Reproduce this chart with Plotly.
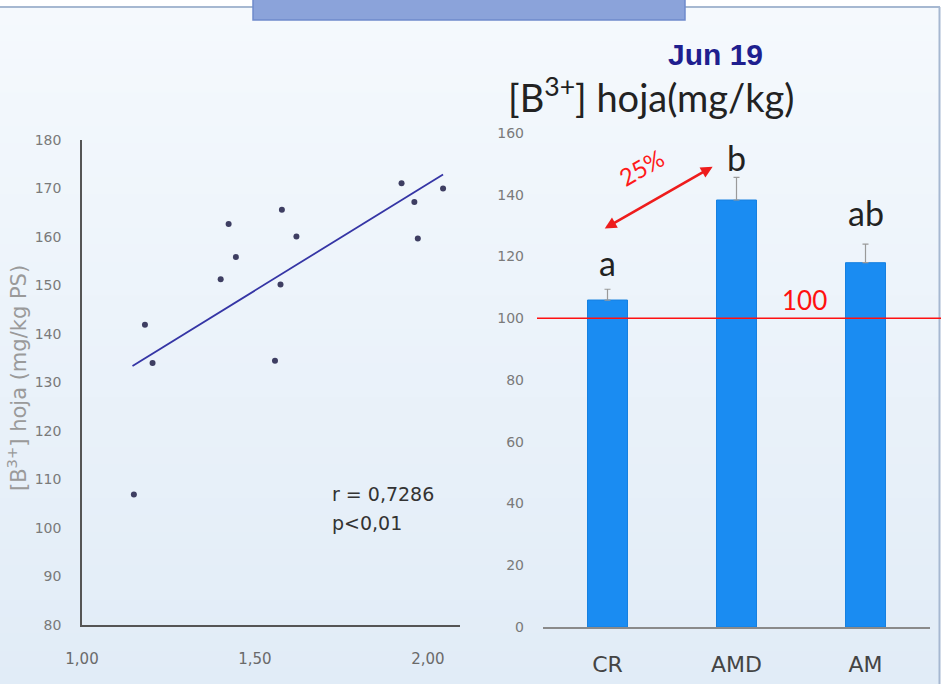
import plotly.graph_objects as go

W, H = 941, 684

# Scatter: leaf boron vs. ratio
scatter_x = [1.150, 1.182, 1.204, 1.401, 1.424, 1.445, 1.558, 1.574, 1.578, 1.620, 1.924, 1.961, 1.971, 2.044]
scatter_y = [106.9, 141.9, 134.0, 151.3, 162.7, 155.9, 134.5, 150.2, 165.6, 160.1, 171.1, 167.2, 159.7, 170.0]
trend_x = [1.146, 2.044]
trend_y = [133.4, 172.9]
left_xticks = [1.0, 1.5, 2.0]
left_xticklabels = ["1,00", "1,50", "2,00"]
left_yticks = [80, 90, 100, 110, 120, 130, 140, 150, 160, 170, 180]

# Bars: leaf boron by treatment
treatments = ["CR", "AMD", "AM"]
boron_mean = [105.9, 138.3, 118.0]
boron_err = [3.5, 7.3, 6.0]
group_letters = ["a", "b", "ab"]
letter_y = [118.2, 152.2, 134.4]
reference_level = 100
right_yticks = [0, 20, 40, 60, 80, 100, 120, 140, 160]


def px(x):
    return x / W


def py(y):
    return 1 - y / H


fig = go.Figure()

fig.add_trace(go.Scatter(
    x=trend_x, y=trend_y, mode="lines",
    line=dict(color="#3535a5", width=1.8),
    xaxis="x", yaxis="y", hoverinfo="skip", showlegend=False,
))
fig.add_trace(go.Scatter(
    x=scatter_x, y=scatter_y, mode="markers",
    marker=dict(color="#3e3e62", size=6),
    xaxis="x", yaxis="y", showlegend=False,
))

fig.add_trace(go.Bar(
    x=treatments, y=boron_mean,
    marker=dict(color="#1a8cf2", line=dict(color="#1680e0", width=1)),
    error_y=dict(type="data", array=boron_err, arrayminus=[0, 0, 0], symmetric=False,
                 color="#9a9a9a", thickness=1.2, width=3),
    xaxis="x2", yaxis="y2", showlegend=False,
))

shapes = []
# soft vertical gradient panel
n_bands = 40
top, bottom = 8, H
c0 = (245, 249, 253)
c1 = (225, 236, 247)
for i in range(n_bands):
    t = i / (n_bands - 1)
    col = "rgb(%d,%d,%d)" % tuple(round(a + (b - a) * t) for a, b in zip(c0, c1))
    y0 = top + (bottom - top) * i / n_bands
    y1 = top + (bottom - top) * (i + 1) / n_bands + 1
    shapes.append(dict(type="rect", xref="paper", yref="paper", layer="below",
                       x0=0, x1=px(939), y0=py(min(y1, H)), y1=py(y0),
                       fillcolor=col, line=dict(width=0)))
# panel frame lines
shapes.append(dict(type="line", xref="paper", yref="paper", layer="below",
                   x0=0, x1=px(940), y0=py(7), y1=py(7),
                   line=dict(color="#a6b8d1", width=2)))
shapes.append(dict(type="line", xref="paper", yref="paper", layer="below",
                   x0=px(939.5), x1=px(939.5), y0=0, y1=py(7),
                   line=dict(color="#a6b8d1", width=2)))
# header tab
shapes.append(dict(type="rect", xref="paper", yref="paper", layer="below",
                   x0=px(253), x1=px(685), y0=py(20), y1=1.02,
                   fillcolor="#8ba3da", line=dict(color="#6f8bcc", width=1.5)))
# reference level line
shapes.append(dict(type="line", xref="paper", yref="y2", layer="above",
                   x0=px(537), x1=1, y0=reference_level, y1=reference_level,
                   line=dict(color="#ff1010", width=1.6)))

annotations = []
annotations.append(dict(text="[B<sup>3+</sup>] hoja (mg/kg PS)", textangle=-90,
                        xref="paper", yref="paper", x=px(17), y=py(378),
                        xanchor="center", yanchor="middle",
                        showarrow=False, font=dict(family="DejaVu Sans", size=21, color="#9a9a9a")))
annotations.append(dict(text="r = 0,7286", xref="x", yref="y", x=1.717, y=107.0,
                        xanchor="left", yanchor="middle", showarrow=False,
                        font=dict(family="DejaVu Sans", size=19, color="#333333")))
annotations.append(dict(text="p<0,01", xref="x", yref="y", x=1.717, y=101.0,
                        xanchor="left", yanchor="middle", showarrow=False,
                        font=dict(family="DejaVu Sans", size=19, color="#333333")))
annotations.append(dict(text="<b>Jun 19</b>", xref="paper", yref="paper",
                        x=px(715), y=py(55), xanchor="center", yanchor="middle", showarrow=False,
                        font=dict(family="Liberation Sans", size=30, color="#1f1f8f")))
annotations.append(dict(text="[B<sup>3+</sup>] hoja(mg/kg)", xref="paper", yref="paper",
                        x=px(651), y=py(95), xanchor="center", yanchor="middle", showarrow=False,
                        font=dict(family="Lato", size=38, color="#222222")))
for cat, letter, ly in zip(treatments, group_letters, letter_y):
    annotations.append(dict(text=letter, xref="x2", yref="y2", x=cat, y=ly,
                            xanchor="center", yanchor="middle",
                            showarrow=False, font=dict(family="Lato", size=34, color="#222222")))
annotations.append(dict(text="100", xref="x2", yref="y2", x=1.53, y=105.9,
                        xanchor="center", yanchor="middle",
                        showarrow=False, font=dict(family="Lato", size=26, color="#ff1010")))
annotations.append(dict(text="", xref="x2", yref="y2", axref="x2", ayref="y2",
                        x=0.815, y=149.1, ax=-0.033, ay=128.8,
                        showarrow=True, arrowhead=2, arrowside="end+start",
                        arrowsize=0.9, arrowwidth=2.6, arrowcolor="#ee1c1c"))
annotations.append(dict(text="25%", xref="x2", yref="y2", x=0.26, y=148.7, textangle=-30,
                        xanchor="center", yanchor="middle",
                        showarrow=False, font=dict(family="Lato", size=24, color="#ff1a1a")))

tick_font = dict(family="DejaVu Sans", size=14, color="#7a7a7a")

fig.update_layout(
    width=W, height=H,
    margin=dict(l=0, r=0, t=0, b=0, autoexpand=False),
    paper_bgcolor="white",
    plot_bgcolor="rgba(0,0,0,0)",
    shapes=shapes,
    annotations=annotations,
    bargap=0.69,
    showlegend=False,
    xaxis=dict(domain=[px(82), px(460)], range=[1.0, 2.093], anchor="y", automargin=False,
               tickvals=left_xticks, ticktext=left_xticklabels,
               showgrid=False, zeroline=False, showline=True,
               linecolor="#555555", linewidth=1.5, ticks="",
               ticklabelstandoff=19, tickfont=dict(family="DejaVu Sans", size=15, color="#6a6a6a")),
    yaxis=dict(domain=[py(625), py(140)], range=[80, 180], anchor="x", automargin=False,
               tickvals=left_yticks, showgrid=False, zeroline=False,
               showline=True, linecolor="#555555", linewidth=1.5, ticks="",
               ticklabelstandoff=16, tickfont=tick_font),
    xaxis2=dict(domain=[px(543), px(930)], range=[-0.5, 2.5], anchor="y2", automargin=False,
                showgrid=False, zeroline=False, showline=True,
                linecolor="#8a8a8a", linewidth=1.5, ticks="",
                ticklabelstandoff=17, tickfont=dict(family="DejaVu Sans", size=22, color="#444444")),
    yaxis2=dict(domain=[py(627), py(133)], range=[0, 160], anchor="x2", automargin=False,
                tickvals=right_yticks, showgrid=False, zeroline=False,
                showline=False, ticks="", ticklabelstandoff=18, tickfont=tick_font),
)

fig.write_html("out.html")
